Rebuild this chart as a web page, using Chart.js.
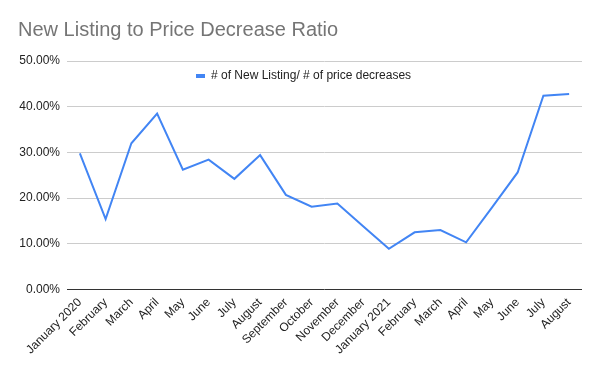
<!DOCTYPE html>
<html>
<head>
<meta charset="utf-8">
<script src="https://cdn.jsdelivr.net/npm/chart.js@4"></script>
<style>
	html, body { margin: 0; padding: 0; background: #fff; }
	#wrap { width: 600px; height: 371px; }
</style>
</head>
<body>
<div id="wrap"><canvas id="ratioChart" width="600" height="371"></canvas></div>
<script>
// months along the x axis
const months = ['January 2020', 'February', 'March', 'April', 'May', 'June', 'July', 'August',
	'September', 'October', 'November', 'December', 'January 2021', 'February', 'March', 'April',
	'May', 'June', 'July', 'August'];

// # of new listings / # of price decreases, in percent
const ratioValues = [29.8, 15.4, 32.0, 38.5, 26.2, 28.4, 24.2, 29.4, 20.7, 18.1,
	18.8, 13.8, 8.9, 12.5, 13.0, 10.3, 17.9, 25.6, 42.4, 42.8];

const yTicks = [0, 10, 20, 30, 40, 50];

const fontFamily = '"Liberation Sans", Arial, sans-serif';

// legend sits inside the plot, just under the top gridline
const legendPlacer = {
	id: 'legendPlacer',
	afterLayout: function (chart) {
		var lg = chart.legend;
		var w = lg.width, h = lg.height;
		lg.left = 187;
		lg.right = lg.left + w;
		lg.top = chart.chartArea.top;
		lg.bottom = lg.top + h;
	}
};

var ctx = document.getElementById('ratioChart').getContext('2d');
new Chart(ctx, {
	type: 'line',
	data: {
		labels: months,
		datasets: [{
			label: '# of New Listing/ # of price decreases',
			data: ratioValues,
			borderColor: '#4285F4',
			backgroundColor: '#4285F4',
			borderWidth: 2,
			pointRadius: 0,
			tension: 0,
			fill: false
		}]
	},
	plugins: [legendPlacer],
	options: {
		responsive: false,
		animation: false,
		layout: {
			padding: { left: 18, right: 18, top: 0, bottom: 8 }
		},
		plugins: {
			title: {
				display: true,
				text: 'New Listing to Price Decrease Ratio',
				align: 'start',
				color: '#757575',
				font: { family: fontFamily, size: 20, weight: 'normal' },
				padding: { top: 18, bottom: 19 }
			},
			legend: {
				position: 'chartArea',
				align: 'start',
				labels: {
					boxWidth: 9,
					boxHeight: 4,
					color: '#222',
					font: { family: fontFamily, size: 12 },
					padding: 9,
					generateLabels: function (chart) {
						var items = Chart.defaults.plugins.legend.labels.generateLabels(chart);
						items.forEach(function (it) { it.lineWidth = 0; });
						return items;
					}
				}
			},
			tooltip: { enabled: false }
		},
		scales: {
			x: {
				offset: true,
				grid: { display: false, drawTicks: false },
				border: { display: false },
				afterFit: function (scale) {
					scale.paddingLeft = 0;
					scale.paddingRight = 0;
				},
				ticks: {
					autoSkip: false,
					minRotation: 45,
					maxRotation: 45,
					color: '#222',
					padding: 6,
					font: { family: fontFamily, size: 12 }
				}
			},
			y: {
				min: 0,
				max: 50,
				afterBuildTicks: function (axis) {
					axis.ticks = yTicks.map(function (v) { return { value: v }; });
				},
				afterFit: function (axis) {
					axis.width = 49;
				},
				grid: {
					drawTicks: false,
					color: function (c) { return c.tick.value === 0 ? '#333' : '#ccc'; },
					lineWidth: 1
				},
				border: { display: false },
				ticks: {
					color: '#222',
					padding: 7,
					font: { family: fontFamily, size: 12 },
					callback: function (v) { return v.toFixed(2) + '%'; }
				}
			}
		}
	}
});
</script>
</body>
</html>
